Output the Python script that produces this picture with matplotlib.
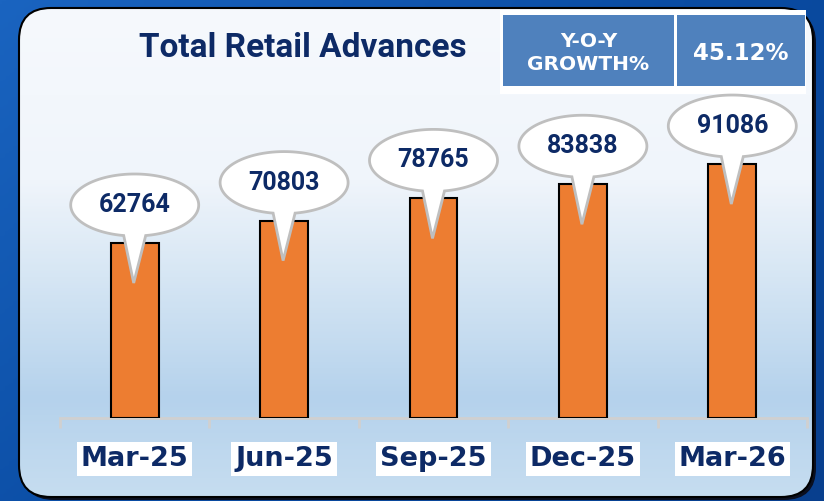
import numpy as np
import matplotlib
matplotlib.use("Agg")
import matplotlib.pyplot as plt
import matplotlib.patches as mpatches
import matplotlib.transforms as mtransforms
from matplotlib.path import Path
from matplotlib.colors import LinearSegmentedColormap

categories = ["Mar-25", "Jun-25", "Sep-25", "Dec-25", "Mar-26"]
values = [62764, 70803, 78765, 83838, 91086]
title = "Total Retail Advances"
yoy_label = "Y-O-Y\nGROWTH%"
yoy_value = "45.12%"

W, H = 824, 501
DPI = 100
fig = plt.figure(figsize=(W / DPI, H / DPI), dpi=DPI)

bg = fig.add_axes([0, 0, 1, 1])
bg.set_xlim(0, W)
bg.set_ylim(H, 0)
bg.axis("off")

yy, xx = np.mgrid[0:1:200j, 0:1:200j]
outer = LinearSegmentedColormap.from_list("o", ["#1a64c0", "#0a4ca3", "#083f8e"])
bg.imshow(0.6 * xx + 0.4 * yy, cmap=outer, extent=[0, W, H, 0], aspect="auto", zorder=0)

cx0, cy0, cx1, cy1 = 19, 8, 813, 497
r = 32
shadow = mpatches.FancyBboxPatch((cx0 + 3, cy0 + 3), cx1 - cx0, cy1 - cy0,
                                 boxstyle=f"round,pad=0,rounding_size={r}",
                                 fc="#0a0f20", ec="none", zorder=1)
bg.add_patch(shadow)
card = mpatches.FancyBboxPatch((cx0, cy0), cx1 - cx0, cy1 - cy0,
                               boxstyle=f"round,pad=0,rounding_size={r}",
                               fc="none", ec="#000000", lw=1.5, zorder=3)
bg.add_patch(card)
inner = LinearSegmentedColormap.from_list(
    "i", [(0.0, "#f6f9fd"), (0.35, "#f0f5fb"), (0.55, "#d6e6f4"),
          (0.8, "#b5d2ec"), (1.0, "#c6ddf0")])
grad = np.linspace(0, 1, 300).reshape(-1, 1)
im = bg.imshow(grad, cmap=inner, extent=[cx0, cx1, cy1, cy0], aspect="auto", zorder=2)
clip = mpatches.FancyBboxPatch((cx0, cy0), cx1 - cx0, cy1 - cy0,
                               boxstyle=f"round,pad=0,rounding_size={r}",
                               fc="none", ec="none", transform=bg.transData)
im.set_clip_path(clip)

navy = "#0d2a66"
bg.text(303, 48, title, ha="center", va="center", fontsize=24, fontweight="bold",
        color=navy, family="Roboto", zorder=5)

bg.add_patch(mpatches.Rectangle((500, 10), 306, 84, fc="white", ec="none", zorder=4))
blue = "#4f81bd"
bg.add_patch(mpatches.Rectangle((503, 15), 171, 71, fc=blue, ec="none", zorder=5))
bg.add_patch(mpatches.Rectangle((677, 15), 128, 71, fc=blue, ec="none", zorder=5))
bg.text(588.5, 53, yoy_label, ha="center", va="center", fontsize=14.5, fontweight="bold",
        color="white", linespacing=1.25, zorder=6)
bg.text(741, 53, yoy_value, ha="center", va="center", fontsize=16.5, fontweight="bold",
        color="white", zorder=6)

left, right, bottom, top = 60, 807, 418, 100
ax = fig.add_axes([left / W, (H - bottom) / H, (right - left) / W, (bottom - top) / H])
ax.set_facecolor("none")
n = len(categories)
x = np.arange(n)
ax.set_xlim(-0.5, n - 0.5)
ymax = (bottom - top) / 175.0 * values[0]
ax.set_ylim(0, ymax)
ax.bar(x, values, width=0.32, color="#ed7d31", edgecolor="black", linewidth=1.5, zorder=3)

for s in ["top", "left", "right"]:
    ax.spines[s].set_visible(False)
ax.spines["bottom"].set_color("#d0d0d0")
ax.spines["bottom"].set_linewidth(2)
ax.set_yticks([])
ax.set_xticks(np.arange(-0.5, n, 1.0))
ax.set_xticklabels([])
ax.tick_params(axis="x", direction="out", length=7, width=2, color="#d0d0d0")

lab_tr = mtransforms.blended_transform_factory(ax.transData, ax.transAxes)
for xi, lab in zip(x, categories):
    ax.text(xi, -41 / (bottom - top), lab, transform=lab_tr,
            ha="center", va="center", fontsize=19.5, fontweight="bold", color=navy, zorder=6,
            bbox=dict(boxstyle="square,pad=0.14", fc="white", ec="none"))

a, b = 64 / DPI, 31 / DPI
cy = 38 / DPI
tip = (-1 / DPI, -40 / DPI)
half = 11 / DPI
t0 = np.arccos(half / a)
ang = np.linspace(-t0, np.pi + t0, 200)
ex = a * np.cos(ang)
ey = cy + b * np.sin(ang)
verts = list(zip(ex, ey)) + [tip, (ex[0], ey[0])]
codes = [Path.MOVETO] + [Path.LINETO] * (len(verts) - 2) + [Path.CLOSEPOLY]
bubble_path = Path(verts, codes)
for xi, v in zip(x, values):
    tr = fig.dpi_scale_trans + mtransforms.ScaledTranslation(xi, v, ax.transData)
    p = mpatches.PathPatch(bubble_path, transform=tr, fc="white", ec="#bfbfbf",
                           lw=2, zorder=5, clip_on=False)
    ax.add_patch(p)
    ax.text(0, cy, f"{v}", transform=tr, ha="center", va="center", fontsize=18,
            fontweight="bold", color=navy, family="Roboto", zorder=6)

fig.savefig("out.png", dpi=DPI)
